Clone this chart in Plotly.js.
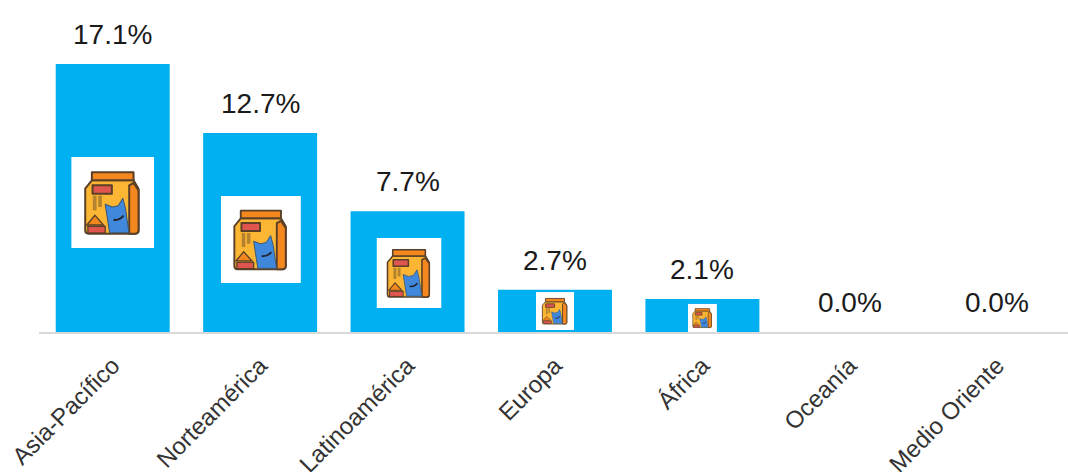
<!DOCTYPE html>
<html lang="es">
<head>
<meta charset="utf-8">
<script src="https://cdn.plot.ly/plotly-3.0.1.min.js"></script>
<style>html,body{margin:0;padding:0;background:#fff;overflow:hidden}#chart{width:1068px;height:472px}</style>
</head>
<body>
<div id="chart"></div>
<script>
// Regional share by market
const regions = ['Asia-Pacífico', 'Norteamérica', 'Latinoamérica', 'Europa', 'África', 'Oceanía', 'Medio Oriente'];
const shares = [17.1, 12.7, 7.7, 2.7, 2.1, 0.0, 0.0];
const shareLabels = ['17.1%', '12.7%', '7.7%', '2.7%', '2.1%', '0.0%', '0.0%'];

// Pictogram placed inside each non-empty bar (x values in category units, y values in share units)
const iconCenters = [0, 1.005, 2.01, 3, 4];
const iconWidths = [0.563, 0.543, 0.441, 0.258, 0.197];
const iconTops = [11.17, 8.68, 6.0, 2.55, 1.8];
const iconBottoms = [5.36, 3.13, 1.53, 0.13, 0.0];

const iconSvg = `<svg xmlns="http://www.w3.org/2000/svg" viewBox="63 50 249 273" preserveAspectRatio="none">
<rect x="63" y="50" width="249" height="273" fill="#ffffff"/>
<g stroke="#5a4028" stroke-width="6" stroke-linejoin="round">
<path d="M125 120 L250 120 L265 145 L265 270 Q265 280 255 280 L115 280 Q105 280 105 270 L105 145 Z" fill="#fdb633"/>
<path d="M237 135 L250 128 L265 150 L265 270 Q265 280 255 280 L237 280 Z" fill="#f5871f"/>
<rect x="125" y="96" width="125" height="24" fill="#f5871f"/>
<rect x="127" y="135" width="58" height="25" fill="#e0564e"/>
</g>
<rect x="128" y="166" width="11" height="44" fill="#b3832f"/>
<rect x="144" y="166" width="11" height="34" fill="#b3832f"/>
<path d="M165 192 L186 200 L204 196 L218 174 L226 205 L236 277 L178 277 Z" fill="#3f88dc" stroke="#3a5672" stroke-width="3" stroke-linejoin="round"/>
<path d="M190 238 Q206 242 220 226" fill="none" stroke="#23232c" stroke-width="6"/>
<path d="M110 254 L134 225 L160 254 Z" fill="#f5871f" stroke="#5a4028" stroke-width="4"/>
<rect x="113" y="258" width="52" height="20" fill="#e0564e" stroke="#5a4028" stroke-width="4"/>
</svg>`;
const iconSource = 'data:image/svg+xml;base64,' + btoa(iconSvg);

const barTrace = {
  type: 'bar',
  x: regions,
  y: shares,
  width: 0.773,
  marker: {color: '#00b0f0', line: {width: 0}},
  hoverinfo: 'x+y'
};

const layout = {
  width: 1068,
  height: 472,
  margin: {l: 39, r: 0, t: 0, b: 140, pad: 0},
  paper_bgcolor: '#ffffff',
  plot_bgcolor: '#ffffff',
  showlegend: false,
  font: {family: 'Liberation Sans, Arial, sans-serif', color: '#222222'},
  xaxis: {
    type: 'category',
    range: [-0.5, 6.48],
    tickangle: -45,
    ticks: '',
    ticklabelstandoff: 8,
    tickfont: {size: 24, color: '#333333'},
    showgrid: false,
    showline: true,
    linecolor: '#d9d9d9',
    linewidth: 2,
    zeroline: false,
    fixedrange: true
  },
  yaxis: {
    range: [0, 21.19],
    visible: false,
    fixedrange: true
  },
  images: iconWidths.map((w, i) => ({
    source: iconSource,
    xref: 'x',
    yref: 'y',
    x: iconCenters[i],
    y: iconTops[i],
    sizex: w,
    sizey: iconTops[i] - iconBottoms[i],
    xanchor: 'center',
    yanchor: 'top',
    sizing: 'stretch',
    layer: 'above'
  })),
  annotations: regions.map((r, i) => ({
    xref: 'x',
    yref: 'y',
    x: i,
    y: shares[i],
    yanchor: 'bottom',
    yshift: 12,
    text: shareLabels[i],
    showarrow: false,
    font: {size: 28, color: '#1a1a1a'}
  }))
};

Plotly.newPlot('chart', [barTrace], layout, {displayModeBar: false, staticPlot: true});
</script>
</body>
</html>
